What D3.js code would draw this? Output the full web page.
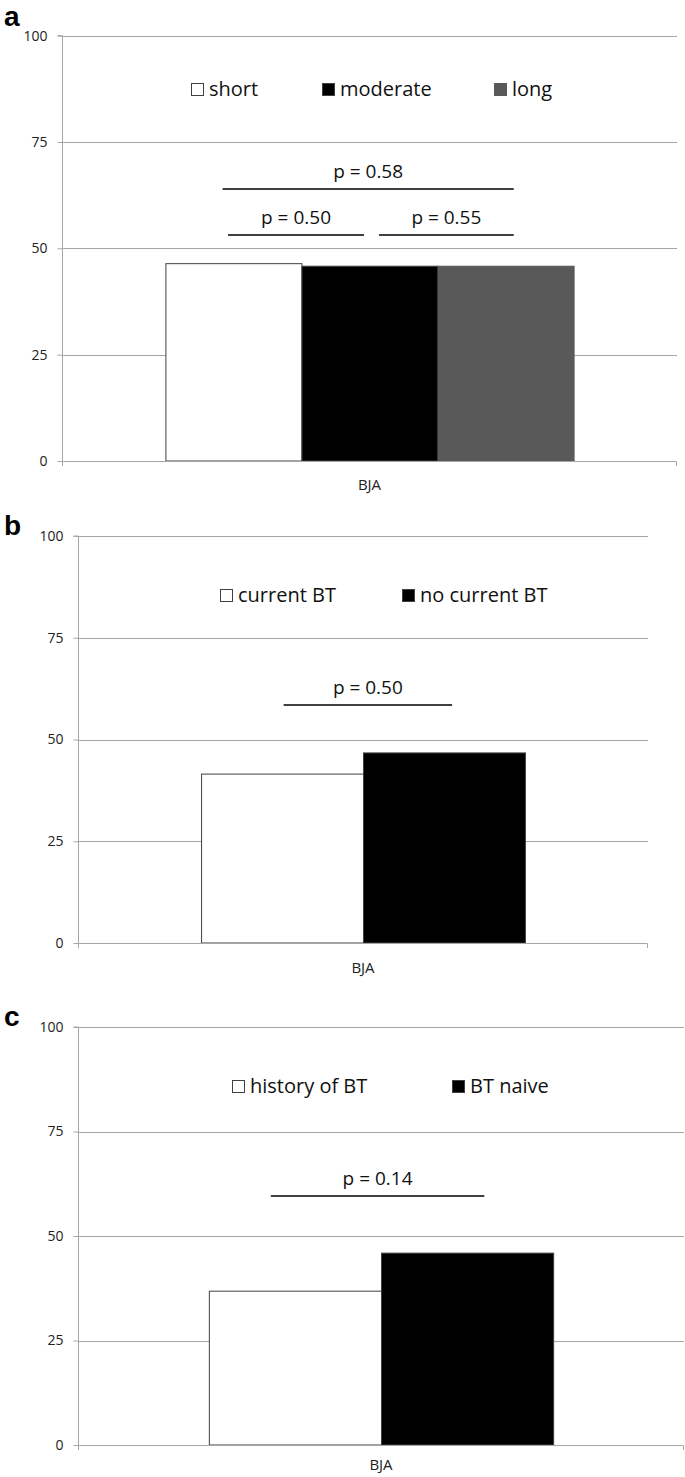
<!DOCTYPE html>
<html>
<head>
<meta charset="utf-8">
<script src="https://cdn.jsdelivr.net/npm/d3@7"></script>
<style>
  body { margin: 0; background: #fff; }
  svg { display: block; }
  text { font-family: "Open Sans", sans-serif; fill: #111; }
</style>
</head>
<body>
<script>
// data
const yTicks = [0, 25, 50, 75, 100];
const category = "BJA";

const seriesA = ["short", "moderate", "long"];
const valuesA = [46.4, 45.8, 45.8];
const pLabelsA = ["p = 0.58", "p = 0.50", "p = 0.55"];
const pLevelsA = [63.9, 53.1, 53.1];
const pSpanA = [[0.42, 2.56], [0.46, 1.46], [1.57, 2.56]];

const seriesB = ["current BT", "no current BT"];
const valuesB = [41.5, 46.7];
const pLabelsB = ["p = 0.50"];
const pLevelsB = [58.5];
const pSpanB = [[0.51, 1.55]];

const seriesC = ["history of BT", "BT naive"];
const valuesC = [36.8, 45.9];
const pLabelsC = ["p = 0.14"];
const pLevelsC = [59.6];
const pSpanC = [[0.36, 1.6]];

const fills = ["#ffffff", "#000000", "#595959"];

const width = 685, height = 1477;

const svg = d3.select("body").append("svg")
  .attr("width", width)
  .attr("height", height);

const panels = [
  { tag: "a", series: seriesA, values: valuesA, pl: pLabelsA, pv: pLevelsA, ps: pSpanA,
    left: 62, right: 677, top: 35.7, bottom: 461, tagY: 26, catDy: 29, legendY: 87.5, legendX: [191, 322, 494] },
  { tag: "b", series: seriesB, values: valuesB, pl: pLabelsB, pv: pLevelsB, ps: pSpanB,
    left: 78, right: 648, top: 536, bottom: 943, tagY: 535, catDy: 30, legendY: 85.5, legendX: [220, 402] },
  { tag: "c", series: seriesC, values: valuesC, pl: pLabelsC, pv: pLevelsC, ps: pSpanC,
    left: 78, right: 684, top: 1027, bottom: 1445, tagY: 1026, catDy: 25, legendY: 85.9, legendX: [232, 452] }
];

panels.forEach(drawPanel);

function drawPanel(p) {
  const g = svg.append("g");

  const y = d3.scaleLinear().domain([0, 100]).range([p.bottom, p.top]);
  const x = d3.scaleBand().domain(p.series)
    .range([p.left, p.right]).paddingInner(0).paddingOuter(0.76);
  const step = x.bandwidth();
  const x0 = x(p.series[0]);

  // panel letter
  g.append("text")
    .attr("x", 4).attr("y", p.tagY)
    .style("font-family", "'Liberation Sans', Arial, sans-serif")
    .style("font-weight", "bold")
    .style("font-size", "28px")
    .style("fill", "#000")
    .text(p.tag);

  // gridlines
  g.selectAll(".grid")
    .data(yTicks.filter(d => d > 0))
    .enter().append("line")
    .attr("x1", p.left).attr("x2", p.right)
    .attr("y1", d => Math.round(y(d)) + 0.5).attr("y2", d => Math.round(y(d)) + 0.5)
    .attr("stroke", "#a6a6a6").attr("stroke-width", 1);

  // y axis
  const yAxis = d3.axisLeft(y).tickValues(yTicks).tickSize(5).tickPadding(10);
  const ya = g.append("g")
    .attr("transform", `translate(${p.left + 0.5},0)`)
    .call(yAxis);
  ya.select(".domain").attr("stroke", "#a6a6a6").attr("d", `M-5,${p.top}H0V${p.bottom}`);
  ya.selectAll(".tick line").attr("stroke", "#a6a6a6");
  ya.selectAll(".tick text")
    .style("font-family", "'Open Sans', sans-serif")
    .style("font-size", "14px")
    .style("fill", "#222");

  // bars
  g.selectAll(".bar")
    .data(p.values)
    .enter().append("rect")
    .attr("x", (d, i) => x(p.series[i]) + 0.5)
    .attr("width", step)
    .attr("y", d => y(d))
    .attr("height", d => y(0) - y(d))
    .attr("fill", (d, i) => fills[i])
    .attr("stroke", (d, i) => i === 2 ? fills[i] : "#404040")
    .attr("stroke-width", 1);

  // x axis
  g.append("path")
    .attr("d", `M${p.left + 0.5},${Math.round(y(0)) + 5}V${Math.round(y(0)) + 0.5}H${p.right - 0.5}V${Math.round(y(0)) + 5}`)
    .attr("fill", "none").attr("stroke", "#a6a6a6");

  g.append("text")
    .attr("x", (p.left + p.right) / 2).attr("y", y(0) + p.catDy)
    .attr("text-anchor", "middle")
    .style("font-size", "15px")
    .style("fill", "#222")
    .text(category);

  // p-value lines
  p.pl.forEach((lab, i) => {
    const ly = Math.round(y(p.pv[i]));
    const xa = x0 + p.ps[i][0] * step, xb = x0 + p.ps[i][1] * step;
    g.append("line")
      .attr("x1", xa).attr("x2", xb)
      .attr("y1", ly).attr("y2", ly)
      .attr("stroke", "#000").attr("stroke-width", 1.6);
    g.append("text")
      .attr("x", (xa + xb) / 2).attr("y", ly - 11)
      .attr("text-anchor", "middle")
      .style("font-size", "19px")
      .text(lab);
  });

  // legend
  const ly = y(p.legendY);
  p.series.forEach((s, i) => {
    const lx = p.legendX[i];
    g.append("rect")
      .attr("x", lx + 0.5).attr("y", Math.round(ly - 6) + 0.5)
      .attr("width", 12).attr("height", 12)
      .attr("fill", fills[i])
      .attr("stroke", i === 2 ? fills[i] : "#404040");
    g.append("text")
      .attr("x", lx + 18).attr("y", ly + 7)
      .style("font-size", "20px")
      .text(s);
  });
}
</script>
</body>
</html>
